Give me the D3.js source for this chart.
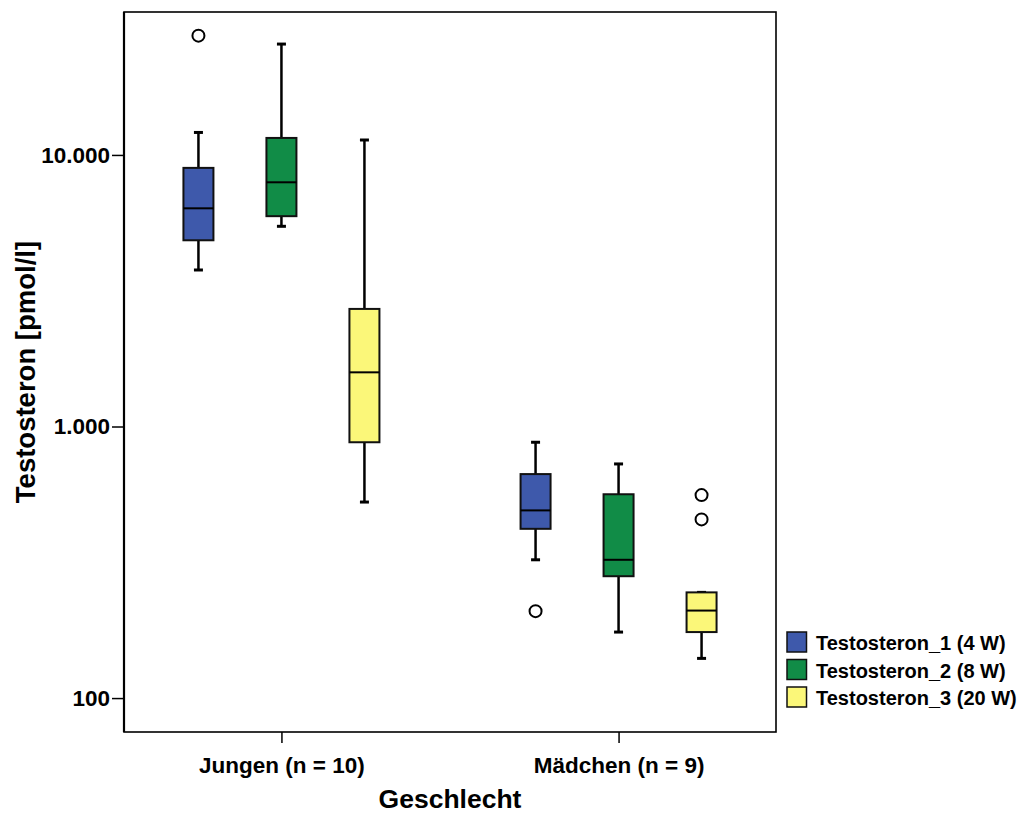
<!doctype html>
<html lang="de">
<head>
<meta charset="UTF-8" />
<title>Testosteron nach Geschlecht</title>
<script src="https://cdn.jsdelivr.net/npm/d3@7"></script>
<style>
  body { margin: 0; background: #fff; }
  text { font-family: "Liberation Sans", Arial, sans-serif; font-weight: bold; fill: #000; }
</style>
</head>
<body>
<svg id="chart" width="1024" height="814"></svg>
<script>
// categories and series
const groups = ["Jungen (n = 10)", "Mädchen (n = 9)"];
const series = ["Testosteron_1 (4 W)", "Testosteron_2 (8 W)", "Testosteron_3 (20 W)"];
const colors = ["#3e59ab", "#118c47", "#fbf779"];

// box statistics per series, one value per group (Jungen, Mädchen)
const whiskerLow  = [[3770, 323], [5460, 175], [527, 140]];
const q1          = [[4850, 420], [5950, 281], [875, 175]];
const median      = [[6360, 491], [7930, 323], [1583, 210]];
const q3          = [[8960, 668], [11550, 563], [2710, 245]];
const whiskerHigh = [[12100, 875], [25600, 728], [11350, 245]];
const outliers    = [[[27500], [209]], [[], []], [[], [559, 455]]];

const yTicks = [100, 1000, 10000];

const svg = d3.select("#chart");
const plotL = 124, plotR = 776, plotT = 12, plotB = 732;

const y = d3.scaleLog().domain([75, 33600]).range([plotB, plotT]);
const x = d3.scalePoint().domain(groups).range([plotL, plotR]).padding(0.467);
const inner = d3.scaleBand().domain(series).range([-124.5, 124.5]);
const boxW = 30, capW = 9;

const de = d3.formatLocale({ decimal: ",", thousands: ".", grouping: [3], currency: ["", " €"] });
const fmt = de.format(",d");

// rows built from the arrays
const rows = [];
series.forEach((s, si) => {
  groups.forEach((g, gi) => {
    rows.push({
      s, si, g,
      lo: whiskerLow[si][gi], q1: q1[si][gi], med: median[si][gi],
      q3: q3[si][gi], hi: whiskerHigh[si][gi], out: outliers[si][gi]
    });
  });
});
const cx = d => x(d.g) + inner(d.s) + inner.bandwidth() / 2;

const plot = svg.append("g");
const box = plot.selectAll("g.box").data(rows).join("g").attr("class", "box");

// whiskers
box.append("line")
  .attr("x1", cx).attr("x2", cx)
  .attr("y1", d => y(d.hi)).attr("y2", d => y(d.q3))
  .attr("stroke", "#000").attr("stroke-width", 2.5);
box.append("line")
  .attr("x1", cx).attr("x2", cx)
  .attr("y1", d => y(d.q1)).attr("y2", d => y(d.lo))
  .attr("stroke", "#000").attr("stroke-width", 2.5);
box.append("line")
  .attr("x1", d => cx(d) - capW / 2).attr("x2", d => cx(d) + capW / 2)
  .attr("y1", d => y(d.hi)).attr("y2", d => y(d.hi))
  .attr("stroke", "#000").attr("stroke-width", 3);
box.append("line")
  .attr("x1", d => cx(d) - capW / 2).attr("x2", d => cx(d) + capW / 2)
  .attr("y1", d => y(d.lo)).attr("y2", d => y(d.lo))
  .attr("stroke", "#000").attr("stroke-width", 3);

// boxes
box.append("rect")
  .attr("x", d => cx(d) - boxW / 2).attr("width", boxW)
  .attr("y", d => y(d.q3)).attr("height", d => y(d.q1) - y(d.q3))
  .attr("fill", d => colors[d.si])
  .attr("stroke", "#111").attr("stroke-width", 2);
box.append("line")
  .attr("x1", d => cx(d) - boxW / 2).attr("x2", d => cx(d) + boxW / 2)
  .attr("y1", d => y(d.med)).attr("y2", d => y(d.med))
  .attr("stroke", "#000").attr("stroke-width", 2);

// outliers
box.selectAll("circle").data(d => d.out.map(v => ({ v, d }))).join("circle")
  .attr("cx", o => cx(o.d)).attr("cy", o => y(o.v)).attr("r", 6)
  .attr("fill", "#fff").attr("stroke", "#000").attr("stroke-width", 2);

// frame
svg.append("rect")
  .attr("x", plotL).attr("y", plotT).attr("width", plotR - plotL).attr("height", plotB - plotT)
  .attr("fill", "none").attr("stroke", "#000").attr("stroke-width", 1.6);
svg.append("line").attr("x1", plotL).attr("x2", plotL).attr("y1", plotT).attr("y2", plotB)
  .attr("stroke", "#000").attr("stroke-width", 2.2);

// y axis
const yAxis = svg.append("g").attr("transform", `translate(${plotL},0)`)
  .call(d3.axisLeft(y).tickValues(yTicks).tickFormat(fmt).tickSize(12).tickPadding(2));
yAxis.select(".domain").remove();
yAxis.selectAll(".tick line").attr("stroke", "#000").attr("stroke-width", 1.5);
yAxis.selectAll("text").style("font-size", "22.5px").style("font-family", null);

// x axis
const xAxis = svg.append("g").attr("transform", `translate(0,${plotB})`)
  .call(d3.axisBottom(x).tickSize(11).tickPadding(14));
xAxis.select(".domain").remove();
xAxis.selectAll(".tick line").attr("stroke", "#000").attr("stroke-width", 1.5);
xAxis.selectAll("text").style("font-size", "22.5px").style("font-family", null);

// titles
svg.append("text").attr("x", (plotL + plotR) / 2).attr("y", 808)
  .attr("text-anchor", "middle").style("font-size", "26.5px").text("Geschlecht");
svg.append("text").attr("transform", `translate(35,${(plotT + plotB) / 2}) rotate(-90)`)
  .attr("text-anchor", "middle").style("font-size", "27.5px").text("Testosteron [pmol/l]");

// legend
const legend = svg.append("g").attr("transform", "translate(787,632)");
const item = legend.selectAll("g").data(series).join("g")
  .attr("transform", (d, i) => `translate(0,${i * 27.5})`);
item.append("rect").attr("width", 19.5).attr("height", 20)
  .attr("fill", (d, i) => colors[i]).attr("stroke", "#111").attr("stroke-width", 1.5);
item.append("text").attr("x", 29).attr("y", 18).style("font-size", "20px").text(d => d);
</script>
</body>
</html>
